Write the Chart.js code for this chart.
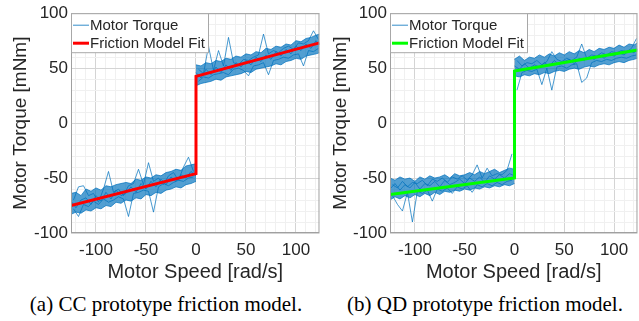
<!DOCTYPE html>
<html>
<head>
<meta charset="utf-8">
<script src="https://cdn.jsdelivr.net/npm/chart.js@4.4.0/dist/chart.umd.min.js"></script>
<style>
html, body { margin: 0; padding: 0; background: #fff; overflow: hidden; width: 639px; height: 321px; }
.panel { position: absolute; top: 0; height: 290px; }
#pa { left: 0; width: 323px; }
#pb { left: 323px; width: 318px; }
.cap { position: absolute; top: 292px; font-family: "Liberation Serif", "Times New Roman", serif; font-size: 21px; line-height: 24px; color: #000; white-space: nowrap; transform: translateX(-50%); }
</style>
</head>
<body>
<div class="panel" id="pa"><canvas id="ccChart"></canvas></div>
<div class="panel" id="pb"><canvas id="qdChart"></canvas></div>
<div class="cap" style="left:166px">(a) CC prototype friction model.</div>
<div class="cap" style="left:485px">(b) QD prototype friction model.</div>
<script>
// tick labels
const xTickLabels = [-100, -50, 0, 50, 100]
const yTickLabels = [-100, -50, 0, 50, 100]

// speed samples (rad/s)
const negX = [-125,-120,-115,-110,-105,-100,-95,-90,-85,-80,-75,-70,-65,-60,-55,-50,-45,-40,-35,-30,-25,-20,-15,-10,-5,0]
const negXMid = [-122.5,-117.5,-112.5,-107.5,-102.5,-97.5,-92.5,-87.5,-82.5,-77.5,-72.5,-67.5,-62.5,-57.5,-52.5,-47.5,-42.5,-37.5,-32.5,-27.5,-22.5,-17.5,-12.5,-7.5,-2.5]
const posX = [0,5,10,15,20,25,30,35,40,45,50,55,60,65,70,75,80,85,90,95,100,105,110,115,120,123.5]
const posXMid = [2.5,7.5,12.5,17.5,22.5,27.5,32.5,37.5,42.5,47.5,52.5,57.5,62.5,67.5,72.5,77.5,82.5,87.5,92.5,97.5,102.5,107.5,112.5,117.5,122.5]

// CC prototype measured torque (mNm)
const ccNegUpper = [-64,-63,-66,-60,-62,-59,-61,-57,-58,-56,-55,-54,-55,-51,-52,-49,-50,-47,-48,-45,-44,-42,-43,-39,-38,-37]
const ccNegLower = [-83,-81,-82,-79,-80,-77,-78,-75,-76,-72,-73,-70,-71,-68,-69,-65,-66,-63,-64,-61,-60,-58,-59,-56,-55,-53]
const ccNegMid1 = [-70,-58,-57,-66,-64,-72,-60,-44,-63,-60,-66,-57,-55,-42,-56,-36,-53,-50,-56,-48,-45,-52,-40,-31,-44]
const ccNegMid2 = [-78,-85,-74,-76,-71,-74,-69,-72,-70,-67,-69,-85,-64,-63,-61,-62,-81,-58,-55,-57,-54,-52,-53,-50,-49]
const ccNegMid3 = [-71,-77,-70,-68,-74,-66,-71,-63,-69,-61,-66,-64,-58,-63,-55,-60,-53,-58,-51,-56,-49,-53,-47,-50,-44,-48]
const ccPosUpper = [53,52,55,54,57,56,59,58,61,60,63,62,65,64,68,67,70,69,72,71,75,74,77,78,80,81]
const ccPosLower = [34,36,37,38,40,39,42,43,44,45,47,46,49,50,51,52,54,53,56,57,59,58,61,62,63,64]
const ccPosMid1 = [49,45,70,48,66,52,78,55,53,58,57,60,62,81,63,66,64,68,70,67,73,72,75,84,76]
const ccPosMid2 = [38,42,41,44,45,46,44,49,50,48,43,52,53,55,44,57,58,60,59,62,63,52,66,65,68]
const ccPosMid3 = [46,41,49,44,51,46,53,48,55,51,57,53,60,56,62,58,65,61,67,63,70,66,72,68,75,71]
const ccFitX = [-125, 0, 0, 123.5]
const ccFitY = [-75, -46, 42.5, 73]

// QD prototype measured torque (mNm)
const qdNegUpper = [-50,-52,-49,-51,-50,-53,-49,-51,-48,-50,-49,-47,-50,-46,-48,-47,-45,-47,-44,-46,-44,-42,-45,-43,-41,-42]
const qdNegLower = [-70,-67,-69,-66,-68,-65,-67,-64,-66,-63,-65,-62,-63,-61,-62,-60,-61,-59,-60,-58,-59,-57,-58,-56,-57,-55]
const qdNegMid1 = [-56,-59,-53,-58,-54,-55,-52,-57,-51,-53,-50,-54,-49,-51,-48,-52,-47,-38,-50,-41,-48,-46,-47,-43,-28]
const qdNegMid2 = [-66,-74,-80,-63,-90,-62,-64,-61,-71,-60,-62,-59,-64,-58,-60,-57,-63,-56,-58,-55,-57,-54,-56,-53,-52]
const qdNegMid3 = [-60,-55,-61,-56,-59,-54,-60,-55,-57,-53,-58,-52,-56,-54,-51,-55,-50,-53,-49,-54,-48,-51,-47,-50,-46,-48]
const qdPosUpper = [58,61,57,60,59,62,60,63,61,64,62,65,63,66,64,67,65,68,67,69,68,71,69,72,71,73]
const qdPosLower = [43,42,44,43,45,44,46,45,47,48,47,49,50,49,51,52,51,53,54,53,55,56,55,57,58,59]
const qdPosMid1 = [57,52,55,54,57,53,56,65,58,56,59,57,60,72,59,62,61,64,62,65,64,66,65,68,77]
const qdPosMid2 = [30,46,48,47,49,35,50,30,51,52,50,53,54,37,41,55,57,56,58,57,59,60,59,61,62]
const qdPosMid3 = [52,49,54,50,53,51,55,52,57,53,56,58,54,59,57,60,58,62,59,63,61,64,62,66,64,67]
const qdFitX = [-125, 0, 0, 123.5]
const qdFitY = [-65, -50, 47.5, 66.5]

const BLUE = 'rgba(0,114,189,0.8)'
const BAND = 'rgba(0,114,189,0.68)'
const TXT = '#262626'
Chart.defaults.font.family = "'Liberation Sans', Arial, sans-serif"

function pts(xs, ys) {
    return xs.map((x, i) => ({ x: x, y: ys[i] }))
}

function noise(xs, ys, fill) {
    return { data: pts(xs, ys), borderColor: BLUE, borderWidth: 0.9, pointRadius: 0, fill: fill ? '+1' : false, backgroundColor: BAND, tension: 0 }
}

// box round the axes + legend inside the top left corner
const axesBox = {
    id: 'axesBox',
    afterDraw(chart, args, opts) {
        const ctx = chart.ctx
        const a = chart.chartArea
        ctx.save()
        ctx.strokeStyle = '#a0a0a0'
        ctx.lineWidth = 1
        ctx.strokeRect(a.left + 0.5, a.top + 0.5, a.right - a.left - 1, a.bottom - a.top - 1)
        // legend
        ctx.fillStyle = '#fff'
        ctx.fillRect(a.left + 0.5, a.top + 0.5, 137, 39)
        ctx.strokeStyle = '#a8a8a8'
        ctx.strokeRect(a.left + 0.5, a.top + 0.5, 137, 39)
        ctx.beginPath()
        ctx.strokeStyle = BLUE
        ctx.lineWidth = 1
        ctx.moveTo(a.left + 2, a.top + 12)
        ctx.lineTo(a.left + 18, a.top + 12)
        ctx.stroke()
        ctx.beginPath()
        ctx.strokeStyle = opts.fitColor
        ctx.lineWidth = 3
        ctx.moveTo(a.left + 2, a.top + 30)
        ctx.lineTo(a.left + 18, a.top + 30)
        ctx.stroke()
        ctx.fillStyle = TXT
        ctx.font = "15px 'Liberation Sans', Arial, sans-serif"
        ctx.textBaseline = 'middle'
        ctx.fillText('Motor Torque', a.left + 19, a.top + 12.5)
        ctx.fillText('Friction Model Fit', a.left + 19, a.top + 30.5)
        ctx.restore()
    }
}

function gridTicks(from, to) {
    let t = []
    for (let v = from; v <= to; v += 10) t.push({ value: v })
    return t
}

function makeChart(id, d, yAxisWidth, yTitlePad) {
    let ctx = document.getElementById(id).getContext('2d')
    return new Chart(ctx, {
        type: 'line',
        data: {
            datasets: [
                { data: pts(d.fitX, d.fitY), borderColor: d.fitColor, borderWidth: 3, pointRadius: 0, fill: false, tension: 0 },
                noise(negX, d.negUpper, true),
                noise(negX, d.negLower, false),
                noise(negXMid, d.negMid1, false),
                noise(negXMid, d.negMid2, false),
                noise(negX, d.negMid3, false),
                noise(posX, d.posUpper, true),
                noise(posX, d.posLower, false),
                noise(posXMid, d.posMid1, false),
                noise(posXMid, d.posMid2, false),
                noise(posX, d.posMid3, false)
            ]
        },
        options: {
            responsive: true,
            maintainAspectRatio: false,
            animation: false,
            layout: { padding: { top: 9, right: 1, left: 0, bottom: 0 } },
            plugins: { legend: { display: false }, tooltip: { enabled: false }, axesBox: { fitColor: d.fitColor } },
            scales: {
                x: {
                    type: 'linear', min: -125, max: 123.5,
                    afterBuildTicks: s => { s.ticks = gridTicks(-120, 120) },
                    afterFit: s => { s.height = 57 },
                    ticks: { autoSkip: false, maxRotation: 0, padding: 7, color: TXT, font: { size: 17 },
                        callback: v => xTickLabels.includes(v) ? String(v) : '' },
                    grid: { drawTicks: false, color: c => c.tick && c.tick.value % 50 === 0 ? '#d4d4d4' : '#f0f0f0' },
                    border: { display: false },
                    title: { display: true, text: 'Motor Speed [rad/s]', color: TXT, font: { size: 20 }, padding: { top: 0, bottom: 6 } }
                },
                y: {
                    type: 'linear', min: -100, max: 100,
                    afterBuildTicks: s => { s.ticks = gridTicks(-100, 100) },
                    afterFit: s => { s.width = yAxisWidth },
                    ticks: { autoSkip: false, padding: 3, color: TXT, font: { size: 17 },
                        callback: v => yTickLabels.includes(v) ? String(v) : '' },
                    grid: { drawTicks: false, color: c => c.tick && c.tick.value % 50 === 0 ? '#d4d4d4' : '#f0f0f0' },
                    border: { display: false },
                    title: { display: true, text: 'Motor Torque [mNm]', color: TXT, font: { size: 19 }, padding: { top: yTitlePad, bottom: 0 } }
                }
            }
        },
        plugins: [axesBox]
    })
}

makeChart('ccChart', {
    fitX: ccFitX, fitY: ccFitY, fitColor: '#ff0000',
    negUpper: ccNegUpper, negLower: ccNegLower, negMid1: ccNegMid1, negMid2: ccNegMid2, negMid3: ccNegMid3,
    posUpper: ccPosUpper, posLower: ccPosLower, posMid1: ccPosMid1, posMid2: ccPosMid2, posMid3: ccPosMid3
}, 71, 9)

makeChart('qdChart', {
    fitX: qdFitX, fitY: qdFitY, fitColor: '#00ff00',
    negUpper: qdNegUpper, negLower: qdNegLower, negMid1: qdNegMid1, negMid2: qdNegMid2, negMid3: qdNegMid3,
    posUpper: qdPosUpper, posLower: qdPosLower, posMid1: qdPosMid1, posMid2: qdPosMid2, posMid3: qdPosMid3
}, 67, 6)
</script>
</body>
</html>
